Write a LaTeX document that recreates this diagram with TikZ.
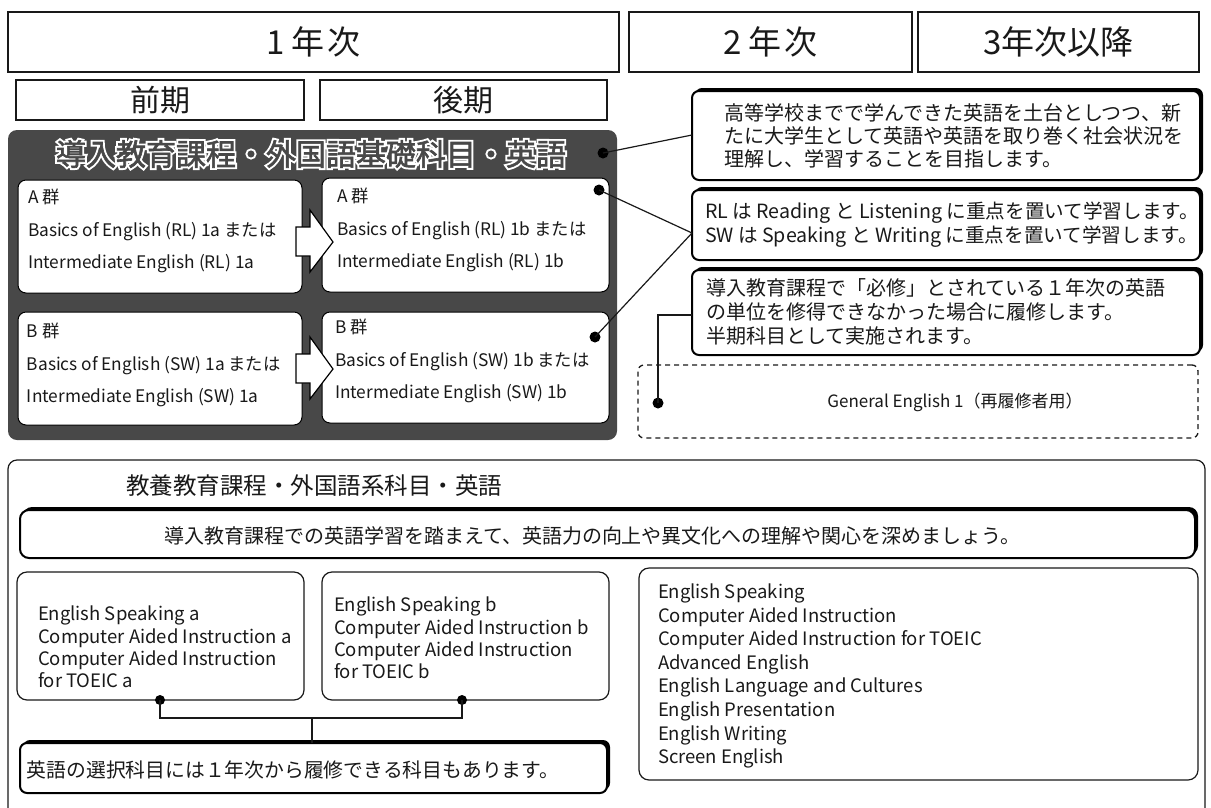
\documentclass[tikz,border=0pt]{standalone}
\usepackage{fontspec}
\setmainfont{Noto Sans CJK JP}
\newfontface\halofont{Noto Sans CJK JP}[FakeBold=15]
\newfontface\titlefont{Noto Sans CJK JP}[FakeBold=2]
\usetikzlibrary{shadows,calc}
\definecolor{panelgray}{RGB}{72,72,72}
\definecolor{ink}{RGB}{25,25,25}
\newcommand\fs[2]{\fontsize{#1}{#2}\selectfont}
\begin{document}
\begin{tikzpicture}[x=1pt,y=-1pt,
  every node/.style={inner sep=0pt, outer sep=0pt, text=ink},
  hdr/.style={draw=ink, line width=1.4pt, fill=white, anchor=north west},
  inbox/.style={draw=black, line width=1pt, fill=white, rounded corners=8pt, anchor=north west},
  heavy/.style={draw=black, line width=2pt, fill=white, rounded corners=7pt, anchor=north west,
     general shadow={fill=black, shadow xshift=3pt, shadow yshift=3pt}},
  thinbox/.style={draw=ink, line width=1.2pt, fill=white, rounded corners=10pt, anchor=north west},
  dot/.style={circle, fill=black, minimum size=11pt},
  conn/.style={line width=1.2pt, draw=ink},
  txt/.style={anchor=west, align=left}]
\useasboundingbox (0,0) rectangle (1211,807);
\clip (0,0) rectangle (1211,807);
\fill[white] (0,0) rectangle (1211,807);

% ---- headers
\node[hdr, minimum width=611pt, minimum height=60pt] (y1) at (8,12) {};
\node[hdr, minimum width=283pt, minimum height=60pt] (y2) at (629,12) {};
\node[hdr, minimum width=281pt, minimum height=60pt] (y3) at (918,12) {};
\node[font=\fs{33}{33}] (y1t) at (y1.center) {1 年\kern3pt 次};
\node[font=\fs{33}{33}] (y2t) at (y2.center) {2 年\kern3pt 次};
\node[font=\fs{33}{33}] (y3t) at (y3.center) {3年次以降};
\node[hdr, minimum width=288pt, minimum height=40pt] (zen) at (16,80) {};
\node[hdr, minimum width=287pt, minimum height=40pt] (kou) at (320,80) {};
\node[font=\fs{30}{30}] (zent) at (zen.center) {前期};
\node[font=\fs{30}{30}] (kout) at (kou.center) {後期};

% ---- dark panel
\node[fill=panelgray, rounded corners=9pt, anchor=north west, minimum width=609pt, minimum height=310pt] (panel) at (8,130) {};
\node[font=\halofont\fs{30}{30}, text=white] (halo) at (311,154) {導入教育課程・外国語基礎科目・英語};
\node[font=\titlefont\fs{30}{30}, text=panelgray] (ptitlet) at (halo.center) {導入教育課程・外国語基礎科目・英語};

\node[inbox, minimum width=284pt, minimum height=113pt] (aL) at (18,180) {};
\node[inbox, minimum width=287pt, minimum height=114pt] (aR) at (322,178) {};
\node[inbox, minimum width=284pt, minimum height=113pt] (bL) at (18,312) {};
\node[inbox, minimum width=287pt, minimum height=111pt] (bR) at (322,312) {};

\node[txt, font=\fs{17.3}{32.5}] (aLt) at (28,231) {A 群\\Basics of English (RL) 1a または\\Intermediate English (RL) 1a};
\node[txt, font=\fs{17.3}{32.5}] (aRt) at (337,230) {A 群\\Basics of English (RL) 1b または\\Intermediate English (RL) 1b};
\node[txt, font=\fs{17.3}{32.5}] (bLt) at (27,365) {B 群\\Basics of English (SW) 1a または\\Intermediate English (SW) 1a};
\node[txt, font=\fs{17.3}{32.5}] (bRt) at (335,361) {B 群\\Basics of English (SW) 1b または\\Intermediate English (SW) 1b};

% block arrows
\draw[fill=white, line width=1.2pt, draw=black, line join=miter]
  (296,227) -- (310,227) -- (310,210) -- (333,242) -- (310,272) -- (310,256) -- (296,256) -- cycle;
\draw[fill=white, line width=1.2pt, draw=black, line join=miter]
  (296,354) -- (310,354) -- (310,337) -- (333,369) -- (310,399) -- (310,383) -- (296,383) -- cycle;

% ---- notes on the right
\node[heavy, minimum width=508pt, minimum height=89pt] (n1) at (692,91) {};
\node[heavy, minimum width=508pt, minimum height=70pt] (n2) at (692,190) {};
\node[heavy, minimum width=508pt, minimum height=85pt] (n3) at (692,270) {};
\node[txt, font=\fs{20}{23}] (n1t) at (724,136) {高等学校までで学んできた英語を土台としつつ、新\\たに大学生として英語や英語を取り巻く社会状況を\\理解し、学習することを目指します。};
\node[txt, font=\fs{19.6}{24}] (n2t) at (705,225) {RL は Reading と Listening に重点を置いて学習します。\\SW は Speaking と Writing に重点を置いて学習します。};
\node[txt, font=\fs{20}{24}] (n3t) at (706,312) {導入教育課程で「必修」とされている１年次の英語\\の単位を修得できなかった場合に履修します。\\半期科目として実施されます。};

\node[draw=ink, dashed, dash pattern=on 5pt off 4pt, line width=1.3pt, rounded corners=6pt, anchor=north west,
      minimum width=560pt, minimum height=73pt] (ge) at (638,365) {};
\node[font=\fs{17}{17}] (get) at (955,402) {General English 1（再履修者用）};

% dots and connectors
\node[dot] (dT) at (603,153) {};
\node[dot] (dA) at (599,190) {};
\node[dot] (dB) at (595,337) {};
\node[dot] (dG) at (658,403) {};
\coordinate (n1w) at (692,135);
\coordinate (n2w) at (692,233);
\coordinate (n3w) at (692,315);
\draw[conn] (dT.center) -- (n1w);
\draw[conn] (dA.center) -- (n2w);
\draw[conn] (dB.center) -- (n2w);
\draw[conn] (dG.center) -- (dG.center |- n3w) -- (n3w);

% ---- bottom section
\node[thinbox, minimum width=1197pt, minimum height=360pt, rounded corners=9pt] (outer) at (8,460) {};
\node[font=\fs{23.5}{23.5}, anchor=west] (bt) at (126,486) {教養教育課程・外国語系科目・英語};
\node[heavy, minimum width=1175pt, minimum height=48pt, rounded corners=9pt] (ban) at (20,510) {};
\node[font=\fs{20}{20}, anchor=west] (bant) at (164,536) {導入教育課程での英語学習を踏まえて、英語力の向上や異文化への理解や関心を深めましょう。};

\node[thinbox, minimum width=287pt, minimum height=128pt] (esa) at (17,572) {};
\node[thinbox, minimum width=287pt, minimum height=128pt] (esb) at (322,572) {};
\node[thinbox, minimum width=559pt, minimum height=212pt] (ri) at (639,568) {};
\node[txt, font=\fs{18.5}{22.3}] (esat) at (38,647) {English Speaking a\\Computer Aided Instruction a\\Computer Aided Instruction\\for TOEIC a};
\node[txt, font=\fs{18.5}{22.3}] (esbt) at (334,638) {English Speaking b\\Computer Aided Instruction b\\Computer Aided Instruction\\for TOEIC b};
\node[txt, font=\fs{18.5}{23.6}] (rit) at (658,676) {English Speaking\\Computer Aided Instruction\\Computer Aided Instruction for TOEIC\\Advanced English\\English Language and Cultures\\English Presentation\\English Writing\\Screen English};

\node[heavy, minimum width=587pt, minimum height=50pt] (sel) at (20,743) {};
\node[font=\fs{19.8}{19.8}, anchor=west] (selt) at (27,770) {英語の選択科目には１年次から履修できる科目もあります。};

\node[dot, minimum size=10pt] (dEa) at (160,700) {};
\node[dot, minimum size=10pt] (dEb) at (462,700) {};
\coordinate (bus) at (312,718);
\draw[conn] (dEa.center) -- (dEa.center |- bus) -- (dEb.center |- bus) -- (dEb.center);
\draw[conn] (bus) -- (bus |- sel.north);
\end{tikzpicture}
\end{document}
